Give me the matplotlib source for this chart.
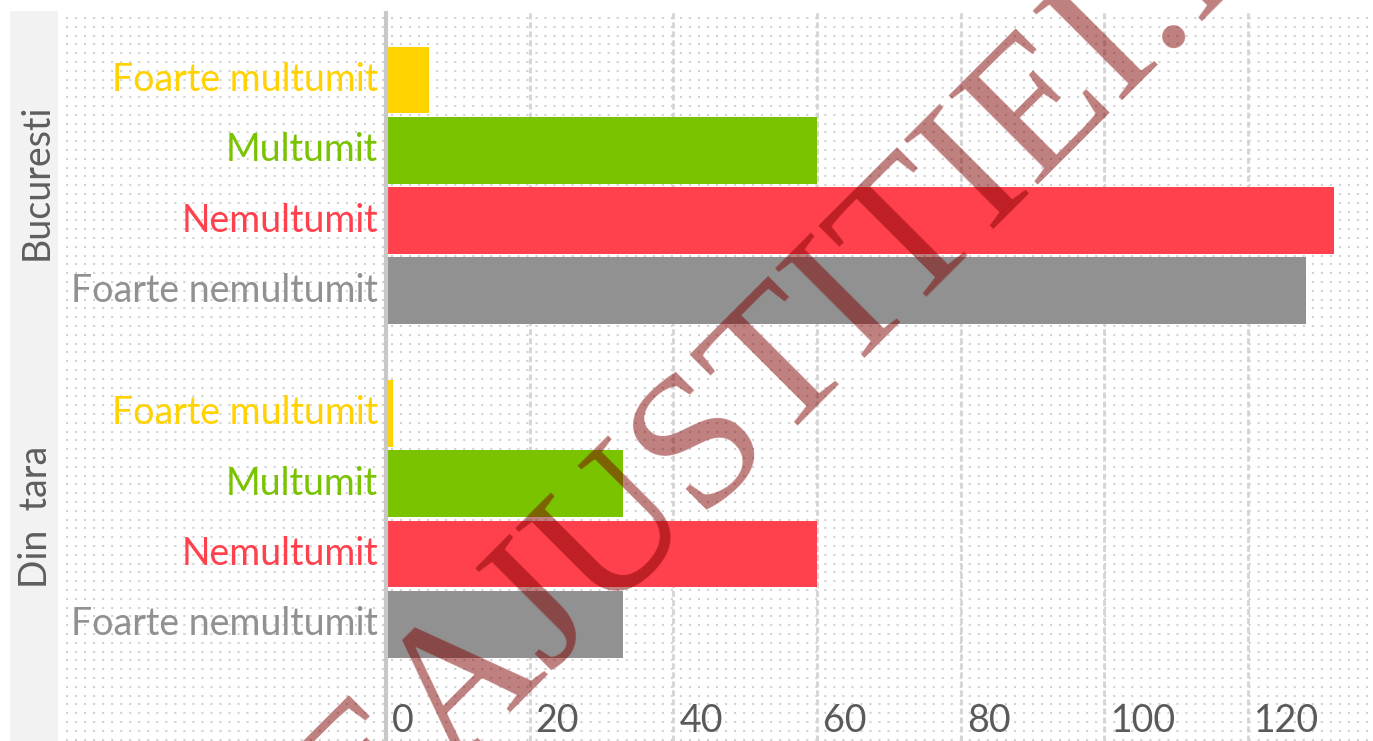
"""Satisfaction survey bars, Bucuresti vs Din tara, with watermark."""

import matplotlib
matplotlib.use("Agg")
import matplotlib.pyplot as plt
import matplotlib.transforms as mtransforms
from matplotlib import font_manager
import numpy as np

plt.rcParams["lines.scale_dashes"] = False

# data
groups = ["Bucuresti", "Din  tara"]
categories = ["Foarte multumit", "Multumit", "Nemultumit", "Foarte nemultumit"]
bucuresti = [6, 60, 132, 128]
din_tara = [1, 33, 60, 33]
cat_colors = ["#FFD200", "#79C300", "#FF414D", "#919191"]
xticks = [0, 20, 40, 60, 80, 100, 120]

W, H = 1373, 741

# narrow sans if present, otherwise Lato a bit smaller
names = {f.name for f in font_manager.fontManager.ttflist}
if "Liberation Sans Narrow" in names:
    LABEL_FONT, FS = ["Liberation Sans Narrow", "DejaVu Sans"], 31
else:
    LABEL_FONT, FS = ["Lato", "DejaVu Sans"], 27

fig = plt.figure(figsize=(W / 100, H / 100), dpi=100)
fig.patch.set_facecolor("white")

rect = [60 / W, 0, 1 - 60 / W, 730 / H]

# dotted background lattice
bg = fig.add_axes(rect, zorder=0)
bg.set_xlim(0, W - 60)
bg.set_ylim(0, 730)
bg.axis("off")
rows = np.arange(730 - 7, 0, -8.8)
bg.hlines(rows, 0, W - 60, colors="#d2d2d2", linewidth=1.5,
          linestyles=[(2.2, (1.5, 5.0))])

ax = fig.add_axes(rect, zorder=1)
ax.patch.set_visible(False)
for s in ax.spines.values():
    s.set_visible(False)
ax.set_xticks([])
ax.set_yticks([])

# px layout: axes top at 11px, first bar at 80px, 70.3px per bar
ax.set_xlim(-45.37, 137.37)
ax.set_ylim(9.40, -0.98)

group_offsets = [0.0, 4.74]
group_vals = [bucuresti, din_tara]

for gx in xticks[1:]:
    ax.axvline(gx, color="#d4d4d4", linewidth=2.0, linestyle=(0, (4.3, 2.2)), zorder=1)
ax.axvline(0, color="#c8c8c8", linewidth=3.0, zorder=3)

for off, vals in zip(group_offsets, group_vals):
    pos = off + np.arange(len(categories))
    ax.barh(pos, vals, height=0.95, color=cat_colors, zorder=2)
    for p, cat, col in zip(pos, categories, cat_colors):
        ax.text(-1.1, p, cat, ha="right", va="center", color=col,
                fontsize=FS, family=LABEL_FONT, zorder=4)

tick_tr = mtransforms.blended_transform_factory(ax.transData, ax.transAxes)
tick_tr = tick_tr + mtransforms.ScaledTranslation(6 / 100, 0, fig.dpi_scale_trans)
for t in xticks:
    ax.text(t, 20 / 730, str(t), ha="left", va="center", color="#5a5a5a",
            fontsize=FS, family=LABEL_FONT, transform=tick_tr, zorder=4)

# facet strip on the left
strip = fig.add_axes([10 / W, 0, 48 / W, 730 / H], zorder=0.5)
strip.set_facecolor("#f2f2f2")
strip.set_xticks([])
strip.set_yticks([])
for s in strip.spines.values():
    s.set_visible(False)
strip_tr = mtransforms.blended_transform_factory(strip.transAxes, ax.transData)
for g, gy in zip(groups, [1.45, 6.22]):
    strip.text(0.55, gy, g, rotation=90, ha="center", va="center",
               color="#5e5e5e", fontsize=FS, family=LABEL_FONT, transform=strip_tr)

# watermark
fig.text(692 / W, 1 - 460 / H, "LUMEAJUSTITIEI.RO", rotation=45,
         rotation_mode="anchor", ha="center", va="center",
         family="Liberation Serif", fontsize=139, color="#800000",
         alpha=0.5, zorder=10)

fig.savefig("out.png", dpi=100)
